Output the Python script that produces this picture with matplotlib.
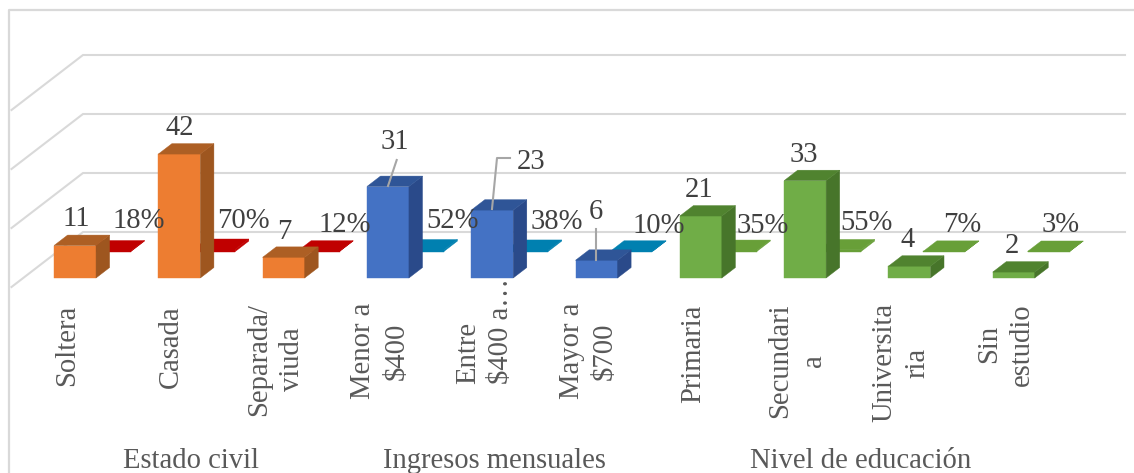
import matplotlib
matplotlib.use("Agg")
import matplotlib.pyplot as plt

plt.rcParams["font.family"] = ["Liberation Serif", "DejaVu Serif"]

labels = ["Soltera", "Casada", "Separada/\nviuda", "Menor a\n$400", "Entre\n$400 a…",
          "Mayor a\n$700", "Primaria", "Secundari\na", "Universita\nria", "Sin\nestudio"]
counts = [11, 42, 7, 31, 23, 6, 21, 33, 4, 2]
percents = [18, 70, 12, 52, 38, 10, 35, 55, 7, 3]
groups = ["Estado civil", "Ingresos mensuales", "Nivel de educación"]
group_of = [0, 0, 0, 1, 1, 1, 2, 2, 2, 2]
grid_values = [0, 20, 40, 60]

# front / side / top shades for each group
count_colors = [("#ED7D31", "#9E561F", "#AD5F24"),
                ("#4472C4", "#2A4A8A", "#2F5597"),
                ("#70AD47", "#47752A", "#50832F")]
pct_colors = ["#C00000", "#0080B0", "#689F38"]

W, H = 1134, 473
UNIT = 2.95        # pixels per value unit
FLOOR = 287        # front edge of the floor
DEPTH_X, DEPTH_Y = 71.5, 55
STEP = 104.3
BAR_W = 42
BAR_DEPTH = 0.19
Z_COUNT, Z_PCT = 0.164, 0.645
LEFT = 11.5
GRID_END = 1125
GRID_COLOR = "#D9D9D9"
TEXT = "#404040"
AXIS_TEXT = "#595959"
FS = 20.6

# centre of each value label
count_pos = [(76, 219), (180, 128), (284, 232), (395, 142), (531, 162),
             (596, 212), (699, 190), (804, 155), (908, 240), (1012, 246)]
pct_pos = [(139, 221), (243, 221), (345, 225), (453, 221), (557, 222),
           (659, 226), (763, 226), (867, 223), (962, 225), (1061, 225)]
# leader lines for the labels moved off their bars
leaders = [[(396.7, 160), (388, 186)],
           [(510, 158), (497, 158), (492, 209)],
           [(596, 229), (596, 260)]]
label_tops = [305, 305, 303, 303, 278, 303, 305, 303, 303, 303]
group_x = [191, 494, 861]


def project(x, value, z):
    return x + DEPTH_X * z, FLOOR - UNIT * value - DEPTH_Y * z


def draw_bar(ax, x, value, z, front, side, top, zorder):
    def p(dx, v, dz):
        return project(x + dx, v, z + dz)
    faces = [
        ([p(0, 0, 0), p(BAR_W, 0, 0), p(BAR_W, value, 0), p(0, value, 0)], front),
        ([p(BAR_W, 0, 0), p(BAR_W, 0, BAR_DEPTH), p(BAR_W, value, BAR_DEPTH), p(BAR_W, value, 0)], side),
        ([p(0, value, 0), p(BAR_W, value, 0), p(BAR_W, value, BAR_DEPTH), p(0, value, BAR_DEPTH)], top),
    ]
    for pts, color in faces:
        ax.fill(*zip(*pts), color=color, lw=0.3, zorder=zorder)


fig = plt.figure(figsize=(W / 100, H / 100), dpi=100)
ax = fig.add_axes([0, 0, 1, 1])
ax.set_xlim(0, W)
ax.set_ylim(H, 0)
ax.axis("off")

# chart frame, only left and top are inside the canvas
ax.plot([9, 9, W], [H, 10, 10], color=GRID_COLOR, lw=1.6, zorder=1)

# walls
for v in grid_values:
    x0, y0 = project(LEFT, v, 0)
    x1, y1 = project(LEFT, v, 1)
    ax.plot([x0, x1, GRID_END], [y0, y1, y1], color=GRID_COLOR, lw=1.5, zorder=1)

for i in range(len(labels)):
    x = 42.3 + STEP * i
    g = group_of[i]
    pct_x = x + 0.5
    draw_bar(ax, pct_x, percents[i] / 100, Z_PCT, pct_colors[g], pct_colors[g], pct_colors[g], 2 + i)
    front, side, top = count_colors[g]
    draw_bar(ax, x, counts[i], Z_COUNT, front, side, top, 2 + i)

    ax.text(67 + STEP * i, label_tops[i], labels[i], rotation=90, ha="center", va="top",
            multialignment="left" if i == 4 else "center",
            fontsize=FS, color=AXIS_TEXT, linespacing=1.35, zorder=30)

for line in leaders:
    ax.plot(*zip(*line), color="#A6A6A6", lw=1.5, zorder=25)

for i in range(len(labels)):
    ax.text(*count_pos[i], str(counts[i]), ha="center", va="center",
            fontsize=FS, color=TEXT, zorder=30)
    ax.text(*pct_pos[i], f"{percents[i]}%", ha="center", va="center",
            fontsize=FS, color=TEXT, zorder=30)

for name, x in zip(groups, group_x):
    ax.text(x, 468, name, ha="center", va="baseline", fontsize=FS, color=AXIS_TEXT, zorder=30)

fig.savefig("out.png", dpi=100, facecolor="white")
